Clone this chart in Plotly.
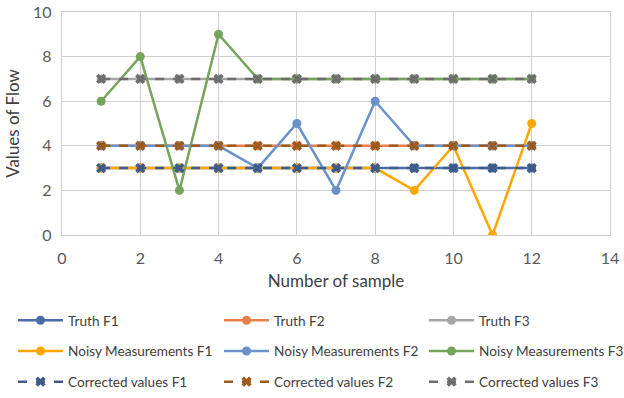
import plotly.graph_objects as go

samples = [1, 2, 3, 4, 5, 6, 7, 8, 9, 10, 11, 12]
truth_f1 = [3] * 12
truth_f2 = [4] * 12
truth_f3 = [7] * 12
noisy_f1 = [3, 3, 3, 3, 3, 3, 3, 3, 2, 4, 0, 5]
noisy_f2 = [4, 4, 4, 4, 3, 5, 2, 6, 4, 4, 4, 4]
noisy_f3 = [6, 8, 2, 9, 7, 7, 7, 7, 7, 7, 7, 7]
corr_f1 = [3] * 12
corr_f2 = [4] * 12
corr_f3 = [7] * 12

# name, values, colour, dash, marker, legend column
series = [
    ("Truth F1", truth_f1, "#4A6CA8", "solid", "circle", "legend"),
    ("Truth F2", truth_f2, "#E97F4B", "solid", "circle", "legend2"),
    ("Truth F3", truth_f3, "#A5A5A5", "solid", "circle", "legend3"),
    ("Noisy Measurements F1", noisy_f1, "#FFA600", "solid", "circle", "legend"),
    ("Noisy Measurements F2", noisy_f2, "#6A92C8", "solid", "circle", "legend2"),
    ("Noisy Measurements F3", noisy_f3, "#74A55A", "solid", "circle", "legend3"),
    ("Corrected values F1", corr_f1, "#3E5C8A", "dash", "x", "legend"),
    ("Corrected values F2", corr_f2, "#9B5A1E", "dash", "x", "legend2"),
    ("Corrected values F3", corr_f3, "#6E6E6E", "dash", "x", "legend3"),
]

fig = go.Figure()
for name, ys, color, dash, sym, leg in series:
    fig.add_trace(go.Scatter(
        x=samples, y=ys, name=name, mode="lines+markers",
        line=dict(color=color, width=2.5, dash=dash),
        marker=dict(color=color, size=9, symbol=sym),
        legend=leg, legendgroup=name,
    ))

grid = "#D0D0D0"
font = "Lato, Carlito, Calibri, sans-serif"
leg_common = dict(
    orientation="v", xanchor="left", yanchor="top", y=-0.3136,
    tracegroupgap=10, itemwidth=45,
    font=dict(family=font, size=13.6, color="#404040"),
    bgcolor="rgba(0,0,0,0)",
)
fig.update_layout(
    width=624, height=398,
    margin=dict(l=62, r=14, t=12, b=163, autoexpand=False),
    paper_bgcolor="white", plot_bgcolor="white",
    font=dict(family=font, color="#404040", size=14),
    showlegend=True,
    legend=dict(x=-0.0894, **leg_common),
    legend2=dict(x=0.2865, **leg_common),
    legend3=dict(x=0.6607, **leg_common),
    xaxis=dict(
        range=[0, 14], dtick=2, tick0=0,
        showgrid=True, gridcolor=grid, gridwidth=1.3,
        zeroline=False, showline=True, linecolor=grid, linewidth=1.3, mirror=True,
        ticks="", ticklabelstandoff=9, tickfont=dict(size=16, color="#595959"),
        title=dict(text="Number of sample", font=dict(size=17, color="#404040"), standoff=8),
    ),
    yaxis=dict(
        range=[0, 10], dtick=2, tick0=0,
        showgrid=True, gridcolor=grid, gridwidth=1.3,
        zeroline=False, showline=True, linecolor=grid, linewidth=1.3, mirror=True,
        ticks="", ticklabelstandoff=6, tickfont=dict(size=16, color="#595959"),
        title=dict(text="Values of Flow", font=dict(size=17, color="#404040"), standoff=9),
    ),
)

fig.write_html("out.html")
